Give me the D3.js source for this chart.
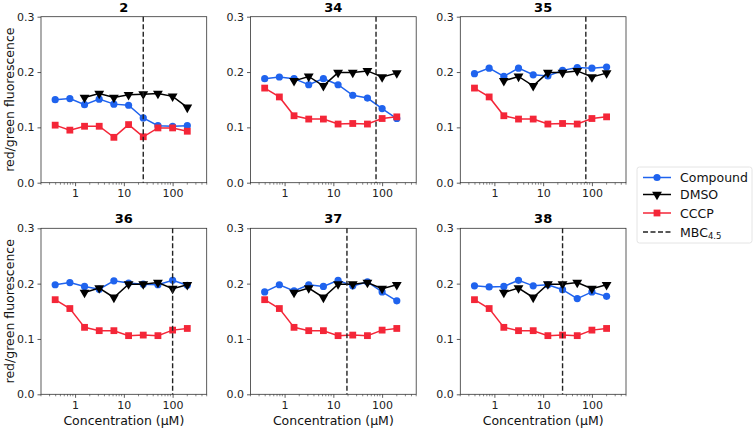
<!DOCTYPE html>
<html><head><meta charset="utf-8">
<script src="https://cdn.jsdelivr.net/npm/d3@7"></script>
<style>body{margin:0;background:#fff}svg{display:block;font-family:"DejaVu Sans",sans-serif}</style>
</head><body><svg id="c" width="755" height="429"></svg>
<script>
const concentrations = [0.390625, 0.78125, 1.5625, 3.125, 6.25, 12.5, 25, 50, 100, 200];
const dmsoConc = [1.5625, 3.125, 6.25, 12.5, 25, 50, 100, 200];
const panelTitles = ["2", "34", "35", "36", "37", "38"];
const mbc = [25, 75, 75, 100, 19, 25];
const compound2  = [0.150, 0.152, 0.141, 0.151, 0.142, 0.140, 0.117, 0.103, 0.102, 0.103];
const compound34 = [0.188, 0.191, 0.188, 0.177, 0.188, 0.177, 0.158, 0.153, 0.134, 0.116];
const compound35 = [0.197, 0.207, 0.192, 0.207, 0.195, 0.193, 0.203, 0.208, 0.207, 0.209];
const compound36 = [0.198, 0.202, 0.195, 0.190, 0.205, 0.201, 0.199, 0.198, 0.206, 0.197];
const compound37 = [0.185, 0.198, 0.187, 0.198, 0.195, 0.206, 0.196, 0.203, 0.185, 0.169];
const compound38 = [0.196, 0.194, 0.195, 0.206, 0.196, 0.198, 0.189, 0.173, 0.185, 0.177];
const dmso2  = [0.154, 0.161, 0.154, 0.159, 0.160, 0.161, 0.156, 0.136];
const dmsoB  = [0.184, 0.192, 0.175, 0.199, 0.199, 0.202, 0.191, 0.198];
const cccp2  = [0.104, 0.095, 0.102, 0.102, 0.082, 0.105, 0.083, 0.099, 0.099, 0.093];
const cccpB  = [0.171, 0.155, 0.121, 0.115, 0.115, 0.106, 0.107, 0.106, 0.116, 0.119];
const yTicks = [0.0, 0.1, 0.2, 0.3];
const xTicks = [1, 10, 100];
const legendLabels = ["Compound", "DMSO", "CCCP", "MBC"];

const compounds = [compound2, compound34, compound35, compound36, compound37, compound38];
const dmsos = [dmso2, dmsoB, dmsoB, dmsoB, dmsoB, dmsoB];
const cccps = [cccp2, cccpB, cccpB, cccpB, cccpB, cccpB];

const BLUE = "#1f63ee", RED = "#f42638", BLACK = "#000";
const svg = d3.select("#c");
const W = 165.7, H = 166;
const lefts = [41, 250.5, 460.3], tops = [16.7, 228.3];

const tri = d3.symbol().type(d3.symbolTriangle).size(42);

panelTitles.forEach((t, i) => {
  const col = i % 3, row = Math.floor(i / 3);
  const g = svg.append("g").attr("transform", `translate(${lefts[col]},${tops[row]})`);
  const x = d3.scaleLog().domain([0.2, 500]).range([0, W]);
  const y = d3.scaleLinear().domain([0, 0.3]).range([H, 0]);

  const yAx = g.append("g").call(d3.axisLeft(y).tickValues(yTicks).tickFormat(d3.format(".1f")).tickSize(3.5).tickPadding(3));
  const xAx = g.append("g").attr("transform", `translate(0,${H})`)
    .call(d3.axisBottom(x).tickValues(xTicks).tickFormat(d => String(d)).tickSize(3.5).tickPadding(3));
  const minor = x.ticks().filter(v => xTicks.indexOf(v) < 0);
  g.append("g").selectAll("line").data(minor).join("line")
    .attr("x1", d => x(d)).attr("x2", d => x(d)).attr("y1", H).attr("y2", H + 2)
    .attr("stroke", "#333").attr("stroke-width", 0.6);
  [yAx, xAx].forEach(a => {
    a.select(".domain").remove();
    a.selectAll("line").attr("stroke", "#333").attr("stroke-width", 0.8);
    a.selectAll("text").attr("font-size", 11).attr("fill", "#222").attr("font-family", "DejaVu Sans");
  });
  g.append("rect").attr("width", W).attr("height", H).attr("fill", "none").attr("stroke", "#333").attr("stroke-width", 0.8);

  const line = d3.line().x(d => x(d[0])).y(d => y(d[1]));
  const cData = concentrations.map((c, k) => [c, compounds[i][k]]);
  const dData = dmsoConc.map((c, k) => [c, dmsos[i][k]]);
  const rData = concentrations.map((c, k) => [c, cccps[i][k]]);

  g.append("path").attr("d", line(cData)).attr("fill", "none").attr("stroke", BLUE).attr("stroke-width", 1.5);
  g.selectAll(".cm").data(cData).join("circle").attr("cx", d => x(d[0])).attr("cy", d => y(d[1])).attr("r", 3.6).attr("fill", BLUE);
  g.append("path").attr("d", line(dData)).attr("fill", "none").attr("stroke", BLACK).attr("stroke-width", 1.5);
  g.selectAll(".dm").data(dData).join("path").attr("d", tri)
    .attr("transform", d => `translate(${x(d[0])},${y(d[1])}) rotate(180)`).attr("fill", BLACK);
  g.append("path").attr("d", line(rData)).attr("fill", "none").attr("stroke", RED).attr("stroke-width", 1.5);
  g.selectAll(".rm").data(rData).join("rect").attr("x", d => x(d[0]) - 3.4).attr("y", d => y(d[1]) - 3.4)
    .attr("width", 6.8).attr("height", 6.8).attr("fill", RED);
  g.append("line").attr("x1", x(mbc[i])).attr("x2", x(mbc[i])).attr("y1", 0).attr("y2", H)
    .attr("stroke", "#222").attr("stroke-width", 1.4).attr("stroke-dasharray", "5,2.5");

  g.append("text").attr("x", W / 2).attr("y", -5).attr("text-anchor", "middle")
    .attr("font-size", 13).attr("font-weight", "bold").text(t);

  if (col === 0) {
    g.append("text").attr("transform", `translate(${-27.5},${H / 2}) rotate(-90)`).attr("text-anchor", "middle")
      .attr("font-size", 12.5).attr("fill", "#111").text("red/green fluorescence");
  }
  if (row === 1) {
    g.append("text").attr("x", W / 2).attr("y", H + 30.5).attr("text-anchor", "middle")
      .attr("font-size", 12.5).attr("fill", "#111").text("Concentration (μM)");
  }
});

const lg = svg.append("g").attr("transform", "translate(637,167)");
lg.append("rect").attr("width", 115).attr("height", 76).attr("rx", 2.5).attr("fill", "#fff")
  .attr("stroke", "#ddd").attr("stroke-width", 0.8);
const rowsY = [10.5, 27.5, 46, 65];
const x0 = 6, x1 = 34;
lg.append("line").attr("x1", x0).attr("x2", x1).attr("y1", rowsY[0]).attr("y2", rowsY[0]).attr("stroke", BLUE).attr("stroke-width", 1.5);
lg.append("circle").attr("cx", (x0 + x1) / 2).attr("cy", rowsY[0]).attr("r", 3.6).attr("fill", BLUE);
lg.append("line").attr("x1", x0).attr("x2", x1).attr("y1", rowsY[1]).attr("y2", rowsY[1]).attr("stroke", BLACK).attr("stroke-width", 1.5);
lg.append("path").attr("d", tri).attr("transform", `translate(${(x0 + x1) / 2},${rowsY[1]}) rotate(180)`).attr("fill", BLACK);
lg.append("line").attr("x1", x0).attr("x2", x1).attr("y1", rowsY[2]).attr("y2", rowsY[2]).attr("stroke", RED).attr("stroke-width", 1.5);
lg.append("rect").attr("x", (x0 + x1) / 2 - 3.4).attr("y", rowsY[2] - 3.4).attr("width", 6.8).attr("height", 6.8).attr("fill", RED);
lg.append("line").attr("x1", x0).attr("x2", x1).attr("y1", rowsY[3]).attr("y2", rowsY[3]).attr("stroke", "#222").attr("stroke-width", 1.4).attr("stroke-dasharray", "5,2.5");
legendLabels.forEach((l, k) => {
  const t = lg.append("text").attr("x", 43).attr("y", rowsY[k] + 4.5).attr("font-size", 12.5).attr("fill", "#111").text(l);
  if (k === 3) t.append("tspan").attr("font-size", 8.5).attr("dy", 2.5).text("4.5");
});
</script></body></html>
